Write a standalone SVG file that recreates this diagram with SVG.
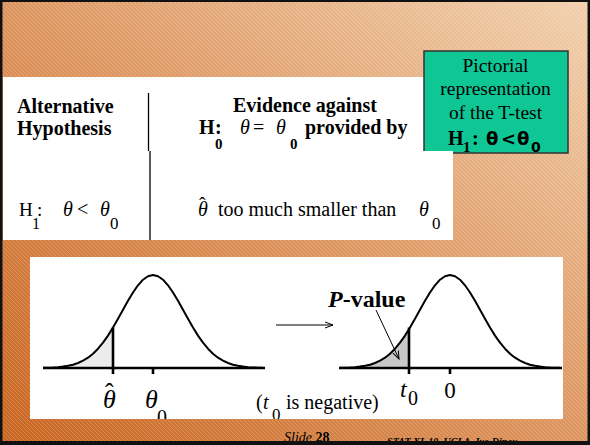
<svg xmlns="http://www.w3.org/2000/svg" width="590" height="445" viewBox="0 0 590 445">
<style>
.s{font-family:"Liberation Serif","Times New Roman",serif;fill:#000}
.b{font-weight:bold}
.i{font-style:italic}
.ds{font-family:"DejaVu Sans",sans-serif;font-weight:bold}
.axis{stroke:#000;stroke-width:2.6;fill:none}
.curve{stroke:#000;stroke-width:2;fill:none;stroke-linejoin:round}
.thin{stroke:#000;stroke-width:1;fill:none}
</style>
<defs>
<linearGradient id="bg" x1="0" y1="1" x2="1" y2="0">
<stop offset="0" stop-color="#c9651f"/>
<stop offset="0.5" stop-color="#dd955f"/>
<stop offset="1" stop-color="#f1d0ad"/>
</linearGradient>
<pattern id="hatch" width="4" height="4" patternUnits="userSpaceOnUse">
<path d="M0,0 L4,4" stroke="#fff" stroke-opacity="0.25" stroke-width="0.8"/>
</pattern>
<path id="bell" d="M-110,-0.2 L-105,-0.3 L-100,-0.5 L-95,-0.85 L-90,-1.4 L-85,-2.2 L-80,-3.3 L-75,-5 L-70,-7.3 L-65,-10.3 L-60,-14.3 L-55,-19.3 L-50,-25.3 L-45,-32.4 L-40,-40.5 L-35,-49.2 L-30,-58.2 L-25,-67.2 L-20,-75.5 L-15,-82.7 L-10,-88.3 L-5,-91.8 L0,-93 L5,-91.8 L10,-88.3 L15,-82.7 L20,-75.5 L25,-67.2 L30,-58.2 L35,-49.2 L40,-40.5 L45,-32.4 L50,-25.3 L55,-19.3 L60,-14.3 L65,-10.3 L70,-7.3 L75,-5 L80,-3.3 L85,-2.2 L90,-1.4 L95,-0.85 L100,-0.5 L105,-0.3 L110,-0.2"/>
<path id="tail" d="M-110,0 L-110,-0.2 L-105,-0.3 L-100,-0.5 L-95,-0.85 L-90,-1.4 L-85,-2.2 L-80,-3.3 L-75,-5 L-70,-7.3 L-65,-10.3 L-60,-14.3 L-55,-19.3 L-50,-25.3 L-45,-32.4 L-40,-40.5 L-40,0 Z"/>
<marker id="arr" markerWidth="10" markerHeight="8" refX="8" refY="4" orient="auto" markerUnits="userSpaceOnUse">
<path d="M0,1 L8,4 L0,7" fill="none" stroke="#000" stroke-width="1"/>
</marker>
<clipPath id="lowclip"><rect x="30" y="257" width="533" height="162"/></clipPath>
</defs>

<rect x="0" y="0" width="590" height="445" fill="#111"/>
<rect x="2.5" y="2" width="585" height="439" fill="url(#bg)"/>
<rect x="2.5" y="2" width="585" height="439" fill="url(#hatch)"/>

<g id="table">
<rect x="3" y="77" width="421" height="74" fill="#fff"/>
<g id="green-box">
<rect x="424" y="51" width="144" height="102" fill="#0fc795" stroke="#333" stroke-width="1.5"/>
<text class="s" x="495.5" y="72" font-size="19.5" text-anchor="middle">Pictorial</text>
<text class="s" x="495.5" y="95" font-size="19.5" text-anchor="middle">representation</text>
<text class="s" x="495.5" y="119" font-size="19.5" text-anchor="middle">of the T-test</text>
<text class="s b" x="448" y="145" font-size="20">H</text>
<text class="s b" x="463" y="152" font-size="15">1</text>
<text class="s b" x="472" y="145" font-size="20">:</text>
<text class="ds" x="486" y="145" font-size="18">θ</text>
<text class="ds" x="501" y="145" font-size="18">&lt;</text>
<text class="ds" x="517" y="145" font-size="18">θ</text>
<text class="ds" x="531" y="152" font-size="14">0</text>
</g>
<rect x="3" y="151" width="450" height="89" fill="#fff"/>
<line x1="148.5" y1="93" x2="148.5" y2="151" stroke="#000" stroke-width="1.3"/>
<line x1="150" y1="151" x2="150" y2="240" stroke="#000" stroke-width="1.3"/>

<text class="s b" x="17" y="113" font-size="20">Alternative</text>
<text class="s b" x="17" y="135" font-size="20">Hypothesis</text>

<text class="s b" x="233" y="112" font-size="20">Evidence against</text>
<text class="s b" x="199" y="134" font-size="20">H</text>
<text class="s b" x="215" y="134" font-size="20">:</text>
<text class="s b" x="215" y="149" font-size="15">0</text>
<text class="s i" x="240" y="134" font-size="20">θ</text>
<text class="s" x="253" y="134" font-size="20">=</text>
<text class="s i" x="276" y="134" font-size="20">θ</text>
<text class="s b" x="290" y="149" font-size="15">0</text>
<text class="s b" x="305" y="134" font-size="20">provided by</text>

<text class="s" x="19" y="216" font-size="19">H</text>
<text class="s" x="32" y="229" font-size="16">1</text>
<text class="s" x="37" y="216" font-size="19">:</text>
<text class="s i" x="63" y="216" font-size="20">θ</text>
<text class="s" x="77" y="216" font-size="20">&lt;</text>
<text class="s i" x="100" y="216" font-size="20">θ</text>
<text class="s" x="110" y="229" font-size="17">0</text>

<text class="s" x="199" y="212" font-size="20">ˆ</text>
<text class="s i" x="198" y="216" font-size="20">θ</text>
<text class="s" x="218" y="216" font-size="20">too much smaller than</text>
<text class="s i" x="419" y="216" font-size="20">θ</text>
<text class="s" x="432" y="229" font-size="17">0</text>
</g>

<g id="plots">
<rect x="30" y="257" width="533" height="162" fill="#fff"/>
<g clip-path="url(#lowclip)">
<g id="left-plot" transform="translate(153,368)">
<use href="#tail" fill="#ececec"/>
<use href="#bell" class="curve"/>
<line x1="-110" y1="0" x2="112" y2="0" class="axis"/>
<line x1="-40" y1="-40.5" x2="-40" y2="6" class="axis"/>
<line x1="0" y1="0" x2="0" y2="6" class="axis"/>
</g>
<g id="right-plot" transform="translate(450,368)">
<use href="#tail" fill="#c8c8c8"/>
<use href="#bell" class="curve"/>
<line x1="-111" y1="0" x2="112" y2="0" class="axis"/>
<line x1="-41" y1="-40.5" x2="-41" y2="6" class="axis"/>
<line x1="0" y1="0" x2="0" y2="6" class="axis"/>
</g>
<text class="s" x="105" y="401" font-size="26">ˆ</text>
<text class="s i" x="103" y="408" font-size="26">θ</text>
<text class="s i" x="145" y="408" font-size="26">θ</text>
<text class="s" x="157" y="424" font-size="20">0</text>
<text class="s" x="256" y="409" font-size="20">(</text>
<text class="s i" x="263" y="409" font-size="20">t</text>
<text class="s" x="272" y="420" font-size="17">0</text>
<text class="s" x="286" y="409" font-size="20">is negative)</text>
<text class="s i" x="400" y="397" font-size="24">t</text>
<text class="s" x="408" y="405" font-size="20">0</text>
<text class="s" x="450" y="398" font-size="23" text-anchor="middle">0</text>
<text class="s b" x="328" y="307" font-size="24"><tspan class="i">P</tspan>-value</text>
</g>
</g>

<g id="connectors">
<line x1="276" y1="325" x2="333" y2="325" class="thin" marker-end="url(#arr)"/>
<line x1="376" y1="310" x2="399" y2="359" class="thin" marker-end="url(#arr)"/>
</g>

<g id="footer">
<text class="s" x="284" y="442" font-size="14"><tspan class="i">Slide</tspan> <tspan class="b">28</tspan></text>
<text class="s b i" x="387" y="445" font-size="10" textLength="130">STAT XL 10, UCLA, Ivo Dinov</text>
<rect x="0" y="441" width="590" height="4" fill="#111"/>
</g>
</svg>
